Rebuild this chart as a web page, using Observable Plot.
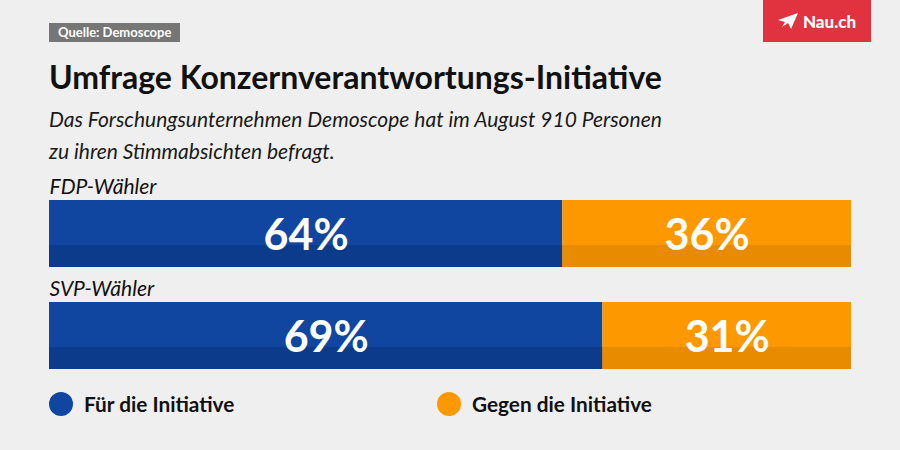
<!DOCTYPE html>
<html>
<head>
<meta charset="utf-8">
<script src="https://cdn.jsdelivr.net/npm/d3@7"></script>
<script src="https://cdn.jsdelivr.net/npm/@observablehq/plot@0.6"></script>
<style>
  html, body { margin: 0; padding: 0; background: #efefef; }
  #wrap { position: relative; width: 900px; height: 450px; overflow: hidden; background: #efefef; font-family: Lato, sans-serif; }
  .src { position: absolute; left: 49px; top: 23px; height: 19px; padding: 0 9px; background: #767676; color: #fff; font-weight: 700; font-size: 13px; line-height: 19px; }
  .logo { position: absolute; left: 763px; top: 0; width: 108px; height: 42px; background: #e0323f; color: #fff; font-weight: 900; font-size: 17px; display: flex; align-items: center; justify-content: center; gap: 5px; }
  h1 { position: absolute; left: 49px; top: 57px; margin: 0; font-size: 32px; font-weight: 700; color: #111; letter-spacing: 0; white-space: nowrap; }
  .sub { position: absolute; left: 49px; top: 103px; margin: 0; font-size: 21px; font-style: italic; color: #1a1a1a; line-height: 32px; white-space: nowrap; }
  #chart { position: absolute; left: 0; top: 170px; }
  .legend { position: absolute; top: 391px; display: flex; align-items: center; gap: 11px; font-size: 20.8px; font-weight: 700; color: #111; }
  .legend span.dot { width: 24px; height: 24px; border-radius: 50%; display: inline-block; }
</style>
</head>
<body>
<div id="wrap">
  <div class="src">Quelle: Demoscope</div>
  <div class="logo"><svg width="20" height="16" viewBox="0 0 20 16"><path d="M0 7 L20 0 L13 16 L10 10 L4 14 L7 9 Z" fill="#fff"/></svg><span>Nau.ch</span></div>
  <h1>Umfrage Konzernverantwortungs-Initiative</h1>
  <div class="sub">Das Forschungsunternehmen Demoscope hat im August 910 Personen<br>zu ihren Stimmabsichten befragt.</div>
  <div id="chart"></div>
  <div class="legend" id="leg1" style="left:49px"></div>
  <div class="legend" id="leg2" style="left:437px"></div>
</div>
<script>
const groups = ["FDP-Wähler", "SVP-Wähler"];
const answers = ["Für die Initiative", "Gegen die Initiative"];
const forValues = [64, 69];
const againstValues = [36, 31];
const colors = ["#1046a0", "#fe9800"];
const darkColors = ["#0d3b8c", "#e88b00"];

const data = [];
groups.forEach((g, i) => {
  data.push({group: g, answer: answers[0], value: forValues[i]});
  data.push({group: g, answer: answers[1], value: againstValues[i]});
});

const stackOpts = {x: "value", y: "group", z: "answer", order: answers};

const plot = Plot.plot({
  width: 900,
  height: 205,
  marginLeft: 49,
  marginRight: 49,
  marginTop: 0,
  marginBottom: 0,
  style: {background: "transparent", fontFamily: "Lato, sans-serif", overflow: "visible"},
  x: {domain: [0, 100], axis: null},
  y: {type: "band", domain: groups, range: [30, 199], paddingInner: 0.3432, paddingOuter: 0, axis: null},
  color: {domain: answers, range: colors},
  marks: [
    Plot.barX(data, Plot.stackX({...stackOpts, fill: "answer"})),
    Plot.barX(data, Plot.stackX({...stackOpts, fill: d => darkColors[answers.indexOf(d.answer)], insetTop: 45})),
    Plot.text(data, Plot.stackX({...stackOpts, text: d => d.value + "%", fill: "white", fontSize: 43, fontWeight: 700, dy: 2})),
    Plot.text(groups, {x: 0, y: d => d, text: d => d, textAnchor: "start", dy: -47, fontSize: 21, fontStyle: "italic", fill: "#111"})
  ]
});
document.getElementById("chart").appendChild(plot);

["leg1", "leg2"].forEach((id, i) => {
  const el = document.getElementById(id);
  el.innerHTML = `<span class="dot" style="background:${colors[i]}"></span><span>${answers[i]}</span>`;
});
</script>
</body>
</html>
